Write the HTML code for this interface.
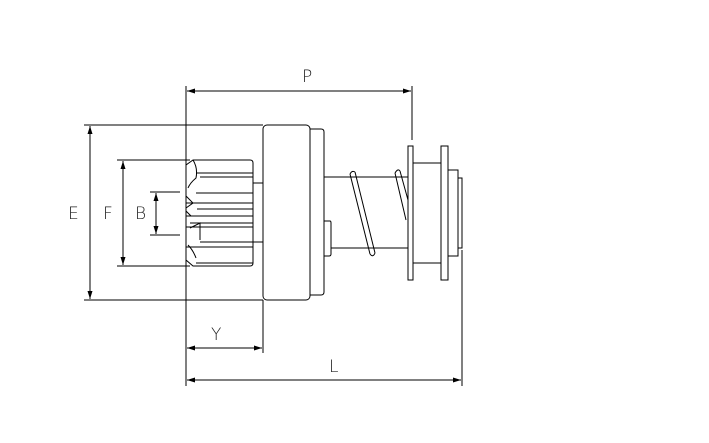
<!DOCTYPE html>
<html><head><style>body{margin:0;background:#fff}svg{display:block}text{font-family:"DejaVu Sans","Liberation Sans",sans-serif;font-size:17px;font-weight:200;fill:#222}</style></head>
<body>
<svg width="709" height="443" viewBox="0 0 709 443" xmlns="http://www.w3.org/2000/svg">
<defs><marker id="a" markerWidth="8" markerHeight="6" refX="8" refY="3" orient="auto-start-reverse" markerUnits="userSpaceOnUse"><path d="M0,0.5 L8,3 L0,5.5z" fill="#000"/></marker></defs>
<g stroke="#000" stroke-width="1" fill="none">
<!-- extension lines -->
<line x1="186" y1="86" x2="186" y2="386"/>
<line x1="84" y1="125" x2="263" y2="125"/>
<line x1="84" y1="300" x2="263" y2="300"/>
<line x1="117" y1="160" x2="190" y2="160"/>
<line x1="117" y1="266" x2="190" y2="266"/>
<line x1="150" y1="192" x2="180" y2="192"/>
<line x1="150" y1="235" x2="180" y2="235"/>
<line x1="412" y1="86" x2="412" y2="140"/>
<line x1="462" y1="250" x2="462" y2="386"/>
<line x1="263" y1="300" x2="263" y2="353"/>
<!-- dimension lines -->
<line x1="90" y1="126" x2="90" y2="299" marker-start="url(#a)" marker-end="url(#a)"/>
<line x1="123" y1="161" x2="123" y2="265" marker-start="url(#a)" marker-end="url(#a)"/>
<line x1="156" y1="193" x2="156" y2="234" marker-start="url(#a)" marker-end="url(#a)"/>
<line x1="187" y1="91" x2="411" y2="91" marker-start="url(#a)" marker-end="url(#a)"/>
<line x1="187" y1="348" x2="262" y2="348" marker-start="url(#a)" marker-end="url(#a)"/>
<line x1="187" y1="380" x2="461" y2="380" marker-start="url(#a)" marker-end="url(#a)"/>
<!-- housing -->
<rect x="263" y="125" width="47" height="175" rx="4"/>
<path d="M310 129 H321 Q324 129 324 132 V292 Q324 295 321 295 H310"/>
<line x1="324" y1="177" x2="408" y2="177"/>
<line x1="331" y1="248" x2="408" y2="248"/>
<path d="M324 221 H330 Q331 221 331 223 V254 Q331 256 329 256 H324"/>
<!-- pinion -->
<path d="M253 163 Q253 160 250 160 H193 L186 165 V260 L193 266 H250 Q253 266 253 263 Z"/>
<line x1="253" y1="183" x2="263" y2="183"/>
<line x1="253" y1="242" x2="263" y2="242"/>
<path d="M196 173 H253 M200 177 H253 M196 193 H253 M186 203 H253 M197 209 H253 M186 216 H253 M190 223 H253 M186 227 H253 M200 242 H253 M186 247 H253 M196 263 H253"/>
<path d="M193 160 Q198 168 196 178 Q190 183 188 188 M186 196 L193 203 L186 208 M186 211 L191 216 M190 228 L200 223 L200 240 M188 245 Q193 250 196 258"/>
<!-- spring -->
<path d="M350 174 L370 254 M355 172 L375 253"/>
<path d="M395 173 L406 220 M400 171 L408 200"/>
<path d="M350 174 Q352 170 355 172 M370 254 Q373 258 375 253 M395 173 Q398 168 400 171"/>
<!-- plates -->
<rect x="408" y="146" width="5" height="134"/>
<rect x="413" y="163" width="28" height="100"/>
<rect x="441" y="146" width="7" height="134"/>
<rect x="448" y="170" width="10" height="86"/>
<rect x="458" y="178" width="4" height="70"/>
</g>
<text x="68" y="219">E</text>
<text x="103" y="219">F</text>
<text x="135" y="219">B</text>
<text x="302" y="82">P</text>
<text x="211" y="340">Y</text>
<text x="329" y="372">L</text>
</svg>
</body></html>
